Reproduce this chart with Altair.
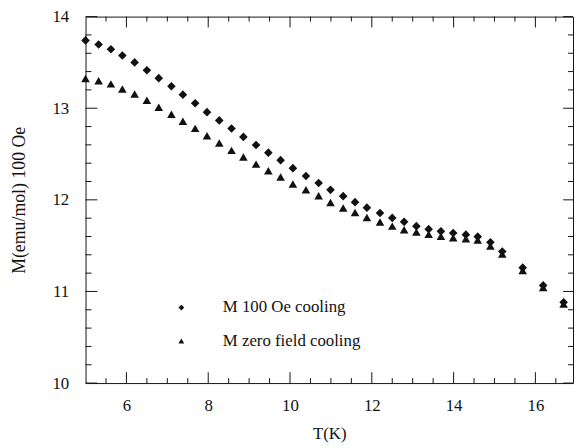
import altair as alt
import pandas as pd

# Temperature (K)
T = [5.00, 5.32, 5.62, 5.90, 6.20, 6.50, 6.79, 7.10, 7.38, 7.68,
     7.97, 8.27, 8.57, 8.86, 9.17, 9.47, 9.77, 10.07, 10.39, 10.70,
     10.99, 11.30, 11.59, 11.88, 12.20, 12.50, 12.79, 13.09, 13.39, 13.69,
     13.99, 14.30, 14.59, 14.90, 15.19, 15.69, 16.19, 16.69]

# M 100 Oe cooling (diamonds)
M_fc = [13.74, 13.695, 13.644, 13.576, 13.50, 13.414, 13.328, 13.24, 13.148, 13.054,
        12.957, 12.867, 12.778, 12.687, 12.598, 12.515, 12.433, 12.346, 12.26, 12.184,
        12.109, 12.04, 11.975, 11.915, 11.857, 11.803, 11.76, 11.713, 11.68, 11.656,
        11.638, 11.62, 11.598, 11.537, 11.436, 11.26, 11.066, 10.882]

# M zero field cooling (triangles)
M_zfc = [13.324, 13.30, 13.266, 13.21, 13.155, 13.086, 13.01, 12.935, 12.857, 12.78,
         12.70, 12.62, 12.54, 12.468, 12.39, 12.317, 12.25, 12.174, 12.11, 12.044,
         11.972, 11.91, 11.861, 11.807, 11.759, 11.713, 11.673, 11.648, 11.623, 11.602,
         11.587, 11.576, 11.562, 11.497, 11.408, 11.228, 11.044, 10.864]

series_names = ["M 100 Oe cooling", "M zero field cooling"]

x_major = [6, 8, 10, 12, 14, 16]
x_minor = [5.5, 6.5, 7, 7.5, 8.5, 9, 9.5, 10.5, 11, 11.5, 12.5, 13, 13.5,
           14.5, 15, 15.5, 16.5]
y_major = [10, 11, 12, 13, 14]
y_minor = [10.2, 10.4, 10.6, 10.8, 11.2, 11.4, 11.6, 11.8, 12.2, 12.4, 12.6, 12.8,
           13.2, 13.4, 13.6, 13.8]

W = 493.5
H = 371
FONT = "Liberation Serif"
INK = "#111111"

rows = []
for t, m in zip(T, M_fc):
    rows.append({"T": t, "M": m, "series": series_names[0]})
for t, m in zip(T, M_zfc):
    rows.append({"T": t, "M": m, "series": series_names[1]})
df = pd.DataFrame(rows)

xscale = alt.Scale(domain=[5, 16.92], nice=False, zero=False)
yscale = alt.Scale(domain=[10, 14], nice=False, zero=False)

x_axis = alt.Axis(title="T(K)", values=x_major, format="d", ticks=False,
                  domain=False, grid=False, labelPadding=15,
                  titleBaseline="middle", titleY=51)
y_axis = alt.Axis(title="M(emu/mol) 100 Oe", values=y_major, format="d",
                  ticks=False, domain=False, grid=False, labelPadding=17,
                  titleBaseline="middle", titleX=-67, titleFontSize=18)

points = alt.Chart(df).mark_point(filled=True, opacity=1, color=INK, size=76).encode(
    x=alt.X("T:Q", scale=xscale, axis=x_axis),
    y=alt.Y("M:Q", scale=yscale, axis=y_axis),
    shape=alt.Shape("series:N",
                    scale=alt.Scale(domain=series_names, range=["diamond", "triangle-up"]),
                    legend=alt.Legend(title=None, orient="none", legendX=88.5, legendY=286,
                                      labelFont=FONT, labelFontSize=17, labelColor=INK,
                                      labelOffset=33.5, rowPadding=16, symbolSize=34,
                                      symbolFillColor=INK, symbolStrokeWidth=0,
                                      padding=0, labelLimit=400)),
)

def tick_layer(values, axis_side, length):
    if axis_side in ("bottom", "top"):
        d = pd.DataFrame({"T": values})
    else:
        d = pd.DataFrame({"M": values})
    base = alt.Chart(d).mark_rule(color=INK, strokeWidth=1)
    if axis_side == "bottom":
        return base.encode(x=alt.X("T:Q", scale=xscale, axis=x_axis),
                           y=alt.value(H), y2=alt.value(H - length))
    if axis_side == "top":
        return base.encode(x=alt.X("T:Q", scale=xscale, axis=x_axis),
                           y=alt.value(0), y2=alt.value(length))
    if axis_side == "left":
        return base.encode(y=alt.Y("M:Q", scale=yscale, axis=y_axis),
                           x=alt.value(0), x2=alt.value(length))
    return base.encode(y=alt.Y("M:Q", scale=yscale, axis=y_axis),
                       x=alt.value(W), x2=alt.value(W - length))

ticks = [
    tick_layer(x_major, "bottom", 11), tick_layer(x_minor, "bottom", 5),
    tick_layer(x_major, "top", 11), tick_layer(x_minor, "top", 5),
    tick_layer(y_major, "left", 12), tick_layer(y_minor, "left", 6),
    tick_layer(y_major, "right", 10), tick_layer(y_minor, "right", 5),
]

chart = alt.layer(points, *ticks).properties(
    width=W, height=H,
    autosize="none",
    padding={"left": 78.5, "top": 6, "right": 1, "bottom": 62},
    background="white",
).configure_view(
    stroke=INK, strokeWidth=1
).configure_axis(
    labelFont=FONT, labelFontSize=17, labelColor=INK,
    titleFont=FONT, titleFontSize=17, titleFontWeight="normal", titleColor=INK,
)

chart.save("out.html", embed_options={"renderer": "svg", "actions": False})
